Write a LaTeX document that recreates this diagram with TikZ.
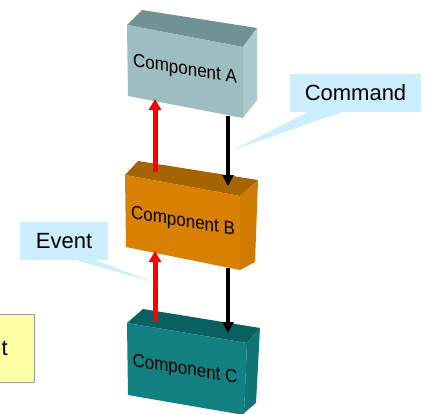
\documentclass[tikz,border=0pt]{standalone}
\usepackage{fontspec}
\setmainfont{Liberation Sans}
\usetikzlibrary{arrows.meta}
\definecolor{aFront}{RGB}{157,189,192}
\definecolor{aTop}{RGB}{112,146,148}
\definecolor{aSide}{RGB}{172,202,204}
\definecolor{bFront}{RGB}{217,128,0}
\definecolor{bTop}{RGB}{166,100,0}
\definecolor{bSide}{RGB}{207,122,0}
\definecolor{cFront}{RGB}{18,128,128}
\definecolor{cTop}{RGB}{8,96,96}
\definecolor{cSide}{RGB}{14,116,116}
\definecolor{callout}{RGB}{204,238,255}
\definecolor{note}{RGB}{255,255,168}
\tikzset{
  boxlabel/.style={font=\fontsize{17}{20}\selectfont, yslant=-0.16, yscale=1.1, inner sep=0pt},
  calltext/.style={font=\fontsize{22}{26}\selectfont, inner sep=0pt},
  uparrow/.style={draw=red, line width=5pt, -{Triangle[width=12pt,length=11pt]}},
  downarrow/.style={draw=black, line width=4pt, -{Triangle[width=11pt,length=11pt]}},
}
\begin{document}
\begin{tikzpicture}[x=1pt,y=-1pt]
\useasboundingbox (0,0) rectangle (435,413);
\clip (0,0) rectangle (435,413);
\fill[white] (0,0) rectangle (435,413);

% Box A
\fill[aTop] (127,25) -- (142,10) -- (257,28) -- (243,47) -- cycle;
\fill[aSide] (243,47) -- (257,28) -- (257,100) -- (243,118) -- cycle;
\fill[aFront] (127,25) -- (243,47) -- (243,118) -- (128,96) -- cycle;
\node[boxlabel] (A) at (185,70) {Component A};
\coordinate (Abot1) at (155,99);
\coordinate (Abot2) at (228,116);

% Box B
\fill[bTop] (125,175) -- (138,161) -- (258,180) -- (240,196) -- cycle;
\fill[bSide] (240,196) -- (258,180) -- (255,262) -- (240,270) -- cycle;
\fill[bFront] (125,175) -- (240,196) -- (240,270) -- (126,247) -- cycle;
\node[boxlabel] (B) at (183,222) {Component B};
\coordinate (Btop1) at (155,172);
\coordinate (Btop2) at (228,186);
\coordinate (Bbot1) at (155,251);
\coordinate (Bbot2) at (228,268);

% Box C
\fill[cTop] (127,323) -- (143,309) -- (260,328) -- (247,343) -- cycle;
\fill[cSide] (247,343) -- (260,328) -- (256,403) -- (244,413) -- cycle;
\fill[cFront] (127,323) -- (247,343) -- (244,415) -- (128,395) -- cycle;
\node[boxlabel] (C) at (185,370) {Component C};
\coordinate (Ctop1) at (155,322);
\coordinate (Ctop2) at (228,333);

% Arrows
\draw[uparrow] (Btop1) -- (Abot1);
\draw[downarrow] (Abot2) -- (Btop2);
\draw[uparrow] (Ctop1) -- (Bbot1);
\draw[downarrow] (Bbot2) -- (Ctop2);

% Command callout
\coordinate (cmdTip) at (233,150);
\fill[callout] (310,111) -- (345,111) -- (cmdTip) -- cycle;
\fill[callout] (290,74) rectangle (421,112);
\node[calltext] (cmd) at (355.5,93) {Command};

% Event callout
\coordinate (evTip) at (153,282);
\fill[callout] (72,259) -- (93,259) -- (evTip) -- cycle;
\fill[callout] (20,222) rectangle (108,260);
\node[calltext] (ev) at (64,241) {Event};

% Yellow note (cut off at left)
\filldraw[fill=note, draw=gray!80] (-20,314) rectangle (34,382);
\node[calltext, anchor=east] (nt) at (8,348) {t};
\end{tikzpicture}
\end{document}
